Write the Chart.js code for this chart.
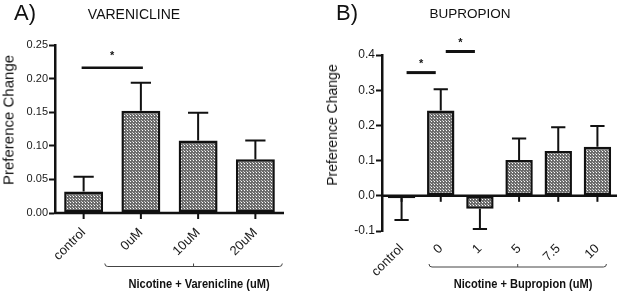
<!DOCTYPE html>
<html>
<head>
<meta charset="utf-8">
<script src="https://cdn.jsdelivr.net/npm/chart.js@4.4.0/dist/chart.umd.min.js"></script>
<style>
  body { margin: 0; background: #fff; width: 617px; height: 291px; position: relative; overflow: hidden;
         font-family: "Liberation Sans", Arial, sans-serif; color: #111; }
  .box { position: absolute; top: 0; height: 291px; }
  .t { position: absolute; white-space: nowrap; line-height: 1; transform: translate(-50%, -50%); }
  .rot { transform: translate(-50%, -50%) rotate(-90deg); }
  .grp { font-weight: bold; font-size: 13.5px; transform: translate(-50%, -50%) scaleX(0.82); }
</style>
</head>
<body>
<div class="box" style="left:0;width:300px"><canvas id="chartA" width="300" height="291"></canvas></div>
<div class="box" style="left:310px;width:307px"><canvas id="chartB" width="307" height="291"></canvas></div>

<div class="t" style="left:25px;top:13px;font-size:22px">A)</div>
<div class="t" style="left:134px;top:14px;font-size:14px">VARENICLINE</div>
<div class="t rot" style="left:8px;top:120px;font-size:15px">Preference Change</div>
<div class="t grp" style="left:199px;top:284px">Nicotine + Varenicline (uM)</div>

<div class="t" style="left:347px;top:13px;font-size:22px">B)</div>
<div class="t" style="left:470px;top:14px;font-size:13.5px">BUPROPION</div>
<div class="t rot" style="left:332px;top:125px;font-size:14px">Preference Change</div>
<div class="t grp" style="left:523px;top:284px">Nicotine + Bupropion (uM)</div>

<script>
// panel A - varenicline
const catsA = ['control', '0uM', '10uM', '20uM'];
const meanA = [0.032, 0.152, 0.108, 0.080];
const semA = [0.022, 0.042, 0.041, 0.028];
const yTicksA = [0, 0.05, 0.10, 0.15, 0.20, 0.25];
const sigA = [[0, 1, 0.216]];

// panel B - bupropion
const catsB = ['control', '0', '1', '5', '7.5', '10'];
const meanB = [-0.007, 0.242, -0.037, 0.102, 0.127, 0.139];
const semB = [0.062, 0.061, 0.057, 0.061, 0.068, 0.059];
const yTicksB = [-0.1, 0, 0.1, 0.2, 0.3, 0.4];
const sigB = [[0, 1, 0.35], [1, 2, 0.41]];

Chart.defaults.font.family = '"Liberation Sans", Arial, sans-serif';

// dotted fill like the scanned figure
function dotPattern() {
    const c = document.createElement('canvas');
    c.width = 3; c.height = 3;
    const g = c.getContext('2d');
    g.fillStyle = '#6c6c6c';
    g.fillRect(0, 0, 3, 3);
    g.fillStyle = '#fff';
    g.fillRect(1, 1, 1, 1);
    g.fillStyle = '#c4c4c4';
    g.fillRect(0, 0, 1, 1);
    return g.createPattern(c, 'repeat');
}

// error bars, zero line, significance lines and the bracket under the groups
function makeDecor(mean, sem, sig, lay) {
    return {
        id: 'decor',
        afterDatasetsDraw(chart) {
            const { ctx, chartArea: a, scales: { x, y } } = chart;
            const meta = chart.getDatasetMeta(0);
            const y0 = y.getPixelForValue(0);
            ctx.save();
            ctx.strokeStyle = '#111';
            ctx.fillStyle = '#111';

            ctx.lineWidth = 2;
            meta.data.forEach((bar, i) => {
                const m = mean[i];
                const end = y.getPixelForValue(m < 0 ? m - sem[i] : m + sem[i]);
                const cap = bar.width * 0.52;
                ctx.beginPath();
                ctx.moveTo(bar.x, bar.y);
                ctx.lineTo(bar.x, end);
                ctx.moveTo(bar.x - cap / 2, end);
                ctx.lineTo(bar.x + cap / 2, end);
                ctx.stroke();
            });

            // x axis at zero
            ctx.lineWidth = 2.5;
            ctx.beginPath();
            ctx.moveTo(a.left - 1, y0);
            ctx.lineTo(a.right, y0);
            ctx.stroke();
            ctx.lineWidth = 2;
            meta.data.forEach(bar => {
                ctx.beginPath();
                ctx.moveTo(bar.x, y0);
                ctx.lineTo(bar.x, y0 + 6);
                ctx.stroke();
            });

            // significance
            ctx.lineWidth = lay.sigW;
            ctx.font = 'bold 11px "Liberation Sans"';
            ctx.textAlign = 'center';
            ctx.textBaseline = 'middle';
            sig.forEach(([from, to, v]) => {
                const x1 = x.getPixelForValue(from) + lay.inset;
                const x2 = x.getPixelForValue(to) - lay.inset;
                const ly = y.getPixelForValue(v);
                ctx.beginPath();
                ctx.moveTo(x1, ly);
                ctx.lineTo(x2, ly);
                ctx.stroke();
                ctx.fillText('*', (x1 + x2) / 2, ly - lay.starOff);
            });

            // bracket
            const cw = x.getPixelForValue(1) - x.getPixelForValue(0);
            const L = x.getPixelForValue(1) - cw * lay.brL;
            const R = x.getPixelForValue(mean.length - 1) + cw * lay.brR;
            const by = a.bottom + lay.brY;
            ctx.lineWidth = 1;
            ctx.strokeStyle = '#444';
            ctx.beginPath();
            ctx.moveTo(L, by - 3);
            ctx.quadraticCurveTo(L, by, L + 3, by);
            ctx.lineTo(R - 3, by);
            ctx.quadraticCurveTo(R, by, R, by - 3);
            ctx.moveTo((L + R) / 2, by);
            ctx.lineTo((L + R) / 2, by - 3);
            ctx.stroke();
            ctx.restore();
        }
    };
}

function makeChart(id, cats, mean, sem, yTicks, sig, lay) {
    return new Chart(document.getElementById(id), {
        type: 'bar',
        data: {
            labels: cats,
            datasets: [{
                data: mean,
                backgroundColor: dotPattern(),
                borderColor: '#111',
                borderWidth: 2.5,
                borderSkipped: false,
                barPercentage: lay.bar,
                categoryPercentage: 1
            }]
        },
        options: {
            responsive: false,
            animation: false,
            layout: { padding: { top: lay.top, right: lay.right, left: 0, bottom: 0 } },
            plugins: { legend: { display: false }, tooltip: { enabled: false } },
            scales: {
                x: {
                    grid: { display: false },
                    border: { display: false },
                    ticks: { minRotation: 45, maxRotation: 45, padding: lay.tickPad, color: '#1a1a1a', font: { size: 13 } },
                    afterFit: s => { s.height = lay.xh; }
                },
                y: {
                    min: yTicks[0],
                    max: yTicks[yTicks.length - 1],
                    grid: { drawOnChartArea: false, tickLength: 6, tickWidth: 2, tickColor: '#111' },
                    border: { color: '#111', width: 2.5 },
                    ticks: { padding: 1, color: '#1a1a1a', font: { size: lay.yFont }, callback: v => Number(v).toFixed(lay.dec) },
                    afterBuildTicks: s => { s.ticks = yTicks.map(v => ({ value: v })); },
                    afterFit: s => { s.width = lay.yw; }
                }
            }
        },
        plugins: [makeDecor(mean, sem, sig, lay)]
    });
}

makeChart('chartA', catsA, meanA, semA, yTicksA, sigA, {
    top: 45, right: 16, xh: 78, yw: 55, bar: 0.68, yFont: 11, dec: 2, tickPad: 4,
    sigW: 2.5, inset: -2, starOff: 12, brL: 0.63, brR: 0.47, brY: 53.5
});
makeChart('chartB', catsB, meanB, semB, yTicksB, sigB, {
    top: 55, right: 0, xh: 60, yw: 72, bar: 0.70, yFont: 12, dec: 1, tickPad: 2,
    sigW: 3, inset: 5, starOff: 9, brL: 0.30, brR: 0.23, brY: 36
});
</script>
</body>
</html>
